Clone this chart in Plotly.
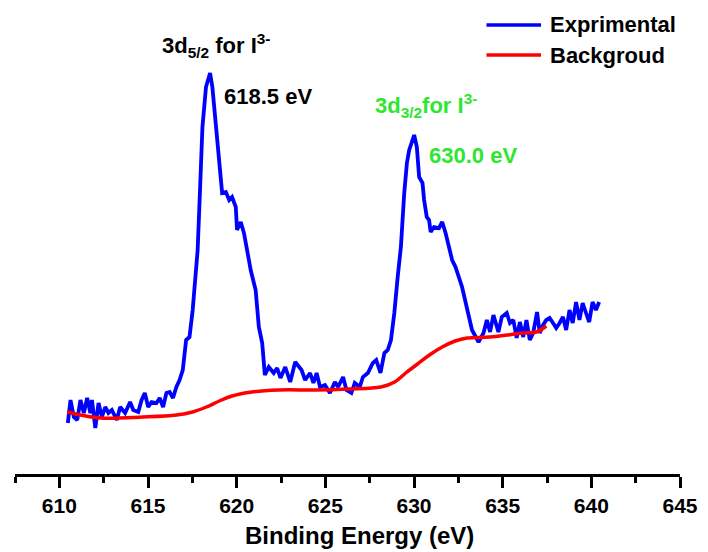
import plotly.graph_objects as go

# Binding energy (eV) and intensity (a.u.) of the experimental XPS spectrum
exp_energy = [
    610.48, 610.63, 610.82, 611.01, 611.19, 611.38, 611.57, 611.75, 611.84, 612.03,
    612.21, 612.40, 612.59, 612.77, 612.96, 613.24, 613.43, 613.71, 613.99, 614.17,
    614.45, 614.64, 614.82, 615.01, 615.20, 615.48, 615.66, 615.85, 616.04, 616.22,
    616.41, 616.60, 616.78, 616.96, 617.15, 617.34, 617.52, 617.71, 617.80, 617.94,
    618.07, 618.27, 618.50, 618.63, 618.90, 619.11, 619.18, 619.39, 619.58, 619.74,
    619.95, 620.02, 620.23, 620.41, 620.53, 620.69, 620.79, 621.07, 621.25, 621.44,
    621.59, 621.81, 622.09, 622.28, 622.47, 622.74, 623.02, 623.30, 623.66, 623.86,
    624.14, 624.33, 624.51, 624.70, 624.98, 625.26, 625.54, 625.72, 626.00, 626.19,
    626.47, 626.66, 626.94, 627.12, 627.40, 627.68, 627.87, 628.11, 628.33, 628.52,
    628.70, 628.89, 629.08, 629.26, 629.45, 629.60, 629.73, 630.01, 630.16, 630.29,
    630.48, 630.57, 630.72, 630.85, 630.94, 631.13, 631.41, 631.59, 631.78, 631.97,
    632.15, 632.34, 632.53, 632.71, 632.84, 632.99, 633.14, 633.27, 633.64, 633.92,
    634.11, 634.29, 634.48, 634.76, 634.95, 635.23, 635.41, 635.60, 635.79, 635.97,
    636.16, 636.34, 636.53, 636.72, 636.94, 637.09, 637.28, 637.46, 637.65, 637.84,
    638.02, 638.21, 638.40, 638.58, 638.77, 638.95, 639.14, 639.33, 639.51, 639.70,
    639.88, 640.07, 640.26, 640.44,
]
exp_intensity = [
    3050, 4200, 3350, 3200, 4200, 3550, 4300, 3550, 4200, 2800,
    4050, 3350, 3850, 3550, 3700, 3200, 3850, 3550, 4100, 3700,
    3600, 4200, 4550, 3850, 4100, 4050, 4300, 3850, 4550, 4600,
    4300, 4850, 5200, 5700, 7200, 7350, 8700, 11200, 11700, 14850,
    17850, 19850, 20550, 19850, 17350, 15700, 14550, 14600, 14200, 14350,
    13850, 12700, 13100, 12550, 11850, 11200, 10700, 9700, 7850, 7050,
    5450, 5850, 5550, 5800, 5300, 5850, 5100, 6100, 5700, 5200,
    5550, 5050, 5550, 4850, 4950, 4550, 5100, 4850, 5350, 4700,
    4550, 5050, 4850, 5350, 5550, 6050, 6200, 5550, 6550, 6700,
    7200, 8550, 10350, 11850, 14550, 16050, 16700, 17450, 16850, 15350,
    15050, 14200, 13350, 13200, 12600, 12850, 12800, 13100, 12550, 11850,
    11200, 10850, 10350, 9850, 9350, 8850, 8200, 7700, 7100, 7550,
    8200, 7600, 8450, 7600, 8350, 8550, 8050, 8200, 7300, 8100,
    7350, 8200, 7200, 7550, 8600, 7550, 7950, 8200, 8300, 8050,
    7800, 8050, 8350, 7700, 8700, 8050, 9100, 8200, 9050, 8550,
    8100, 9100, 8700, 9100,
]

# Background curve
bg_energy = [
    610.45, 611.19, 612.31, 614.71, 616.61, 617.51, 618.29, 619.02, 619.74, 620.86,
    622.37, 624.44, 626.28, 628.13, 628.91, 629.53, 630.20, 630.87, 631.59, 632.32,
    632.99, 634.27, 636.17, 636.90, 637.46,
]
bg_intensity = [
    3600, 3450, 3300, 3350, 3450, 3600, 3850, 4150, 4400, 4600,
    4700, 4700, 4750, 4850, 5100, 5550, 6000, 6450, 6850, 7150,
    7300, 7350, 7550, 7600, 7900,
]

x_ticks = [610, 615, 620, 625, 630, 635, 640, 645]
series_names = ["Exprimental", "Backgroud"]
series_colors = ["#0000ff", "#ff0000"]
green = "#2ee62e"
FONT = "Liberation Sans, Arial, sans-serif"

fig = go.Figure()
fig.add_trace(go.Scatter(x=exp_energy, y=exp_intensity, mode="lines", name=series_names[0],
                         line=dict(color=series_colors[0], width=3.8), showlegend=False))
fig.add_trace(go.Scatter(x=bg_energy, y=bg_intensity, mode="lines", name=series_names[1],
                         line=dict(color=series_colors[1], width=3.5, shape="spline"),
                         showlegend=False))

# manual legend (long line samples as in the original)
leg_y = [0.9677, 0.903]
for name, color, yy in zip(series_names, series_colors, leg_y):
    fig.add_shape(type="line", xref="paper", yref="paper", x0=0.709, x1=0.791, y0=yy, y1=yy,
                  line=dict(color=color, width=3.5))
    fig.add_annotation(xref="paper", yref="paper", x=0.8015, y=yy, text=name, showarrow=False,
                       xanchor="left", yanchor="middle",
                       font=dict(family=FONT, size=22, color="black", weight="bold"))

fig.add_annotation(x=615.69, y=21950, text="3d<sub>5/2</sub> for I<sup>3-</sup>", showarrow=False,
                   xanchor="left", yanchor="middle",
                   font=dict(family=FONT, size=22, color="black", weight="bold"))
fig.add_annotation(x=619.15, y=19375, text="618.5 eV", showarrow=False,
                   xanchor="left", yanchor="middle",
                   font=dict(family=FONT, size=22, color="black", weight="bold"))
fig.add_annotation(x=627.68, y=18950, text="3d<sub>3/2</sub>for I<sup>3-</sup>", showarrow=False,
                   xanchor="left", yanchor="middle",
                   font=dict(family=FONT, size=22, color=green, weight="bold"))
fig.add_annotation(x=630.76, y=16450, text="630.0 eV", showarrow=False,
                   xanchor="left", yanchor="middle",
                   font=dict(family=FONT, size=22, color=green, weight="bold"))

# x-axis title (placed as in the original, slightly right of centre)
fig.add_annotation(xref="paper", yref="paper", x=0.518, y=-0.166, text="Binding Energy (eV)",
                   showarrow=False, xanchor="center", yanchor="bottom",
                   font=dict(family=FONT, size=24, color="black", weight="bold"))

fig.update_layout(
    width=708, height=552,
    margin=dict(l=15, r=23, t=10, b=78),
    paper_bgcolor="white", plot_bgcolor="white",
    xaxis=dict(
        range=[607.5, 645], tickvals=x_ticks, ticktext=[str(t) for t in x_ticks],
        showgrid=False, zeroline=False,
        showline=True, linecolor="black", linewidth=2.5,
        ticks="outside", ticklen=11, tickwidth=2.5, tickcolor="black",
        minor=dict(dtick=2.5, tick0=607.5, ticks="outside", ticklen=6, tickwidth=2.5, tickcolor="black"),
        tickfont=dict(family=FONT, size=21, color="black", weight="bold"),
    ),
    yaxis=dict(range=[500, 23700], visible=False, showgrid=False, zeroline=False),
)

fig.write_html("out.html")
